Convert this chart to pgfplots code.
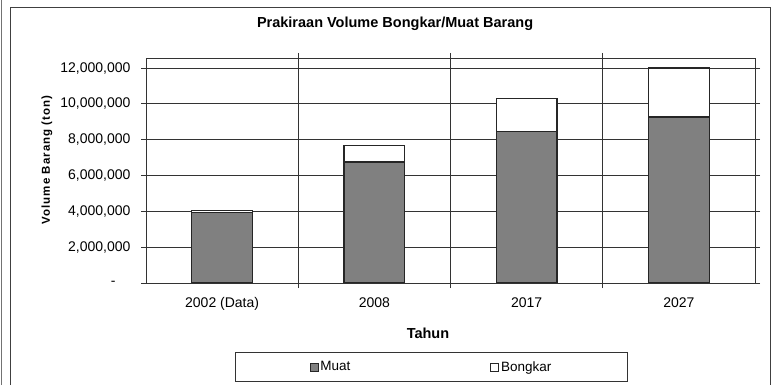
\documentclass[border=0pt]{standalone}
\usepackage{pgfplots}
\pgfplotsset{compat=1.18}
\usepackage{fontspec}
\setmainfont{Liberation Sans}
\begin{document}
\begin{tikzpicture}[x=1pt,y=1pt]
\useasboundingbox (0,0) rectangle (783,385);
\draw[black!75, line width=0.8pt] (10,0) -- (10,378) -- (770,378) -- (770,0);
\draw[black!55, line width=0.6pt] (1.5,0) -- (1.5,385);
\begin{axis}[
  at={(146pt,102pt)}, anchor=south west,
  scale only axis, width=609pt, height=225pt,
  ybar stacked, bar width=0.4,
  xmin=-0.5, xmax=3.5, ymin=0, ymax=12560000,
  scaled y ticks=false,
  axis line style={black!80, line width=0.9pt},
  xtick={0,1,2,3},
  xticklabels={2002 (Data),2008,2017,2027},
  major x tick style={draw=none},
  minor xtick={0.5,1.5,2.5},
  xminorgrids,
  minor x grid style={black!80, line width=0.8pt},
  minor x tick style={black!80, line width=0.8pt},
  tick align=outside,
  minor tick length=5pt, major tick length=5pt,
  ytick={0,2000000,4000000,6000000,8000000,10000000,12000000},
  yticklabels={{-\kern15pt},{2,000,000},{4,000,000},{6,000,000},{8,000,000},{10,000,000},{12,000,000}},
  ymajorgrids,
  major y grid style={black!80, line width=0.8pt},
  major y tick style={black!80, line width=0.8pt},
  tick label style={font=\fontsize{14}{16}\selectfont},
  yticklabel style={xshift=-7pt},
  xticklabel style={yshift=-6pt},
  title={Prakiraan Volume Bongkar/Muat Barang},
  title style={at={(axis description cs:0.409,1.124)}, anchor=center, font=\bfseries\fontsize{14.5}{16}\selectfont},
  xlabel={Tahun},
  xlabel style={at={(axis description cs:0.463,-0.222)}, anchor=center, font=\bfseries\fontsize{14.5}{16}\selectfont},
  ylabel={Volume Barang (ton)},
  ylabel style={at={(axis description cs:-0.1626,0.547)}, anchor=center, font=\bfseries\fontsize{11.5}{13}\selectfont\addfontfeature{LetterSpace=9}},
  legend style={at={(axis description cs:0.469,-0.373)}, anchor=center, draw=black!80, line width=0.8pt,
    legend columns=2, font=\fontsize{13.5}{15}\selectfont, inner xsep=74pt, inner ysep=6.5pt,
    /tikz/every even column/.append style={column sep=138pt}},
  legend image code/.code={\draw[#1, line width=0.7pt] (0pt,-4pt) rectangle (8pt,4pt);},
]
\addplot[draw=black!85, line width=1.2pt, fill=black!50] coordinates {(0,3920000) (1,6750000) (2,8470000) (3,9270000)};
\addlegendentry{Muat}
\addplot[draw=black!85, line width=1.2pt, fill=white] coordinates {(0,140000) (1,920000) (2,1820000) (3,2730000)};
\addlegendentry{Bongkar}
\end{axis}
\end{tikzpicture}
\end{document}
